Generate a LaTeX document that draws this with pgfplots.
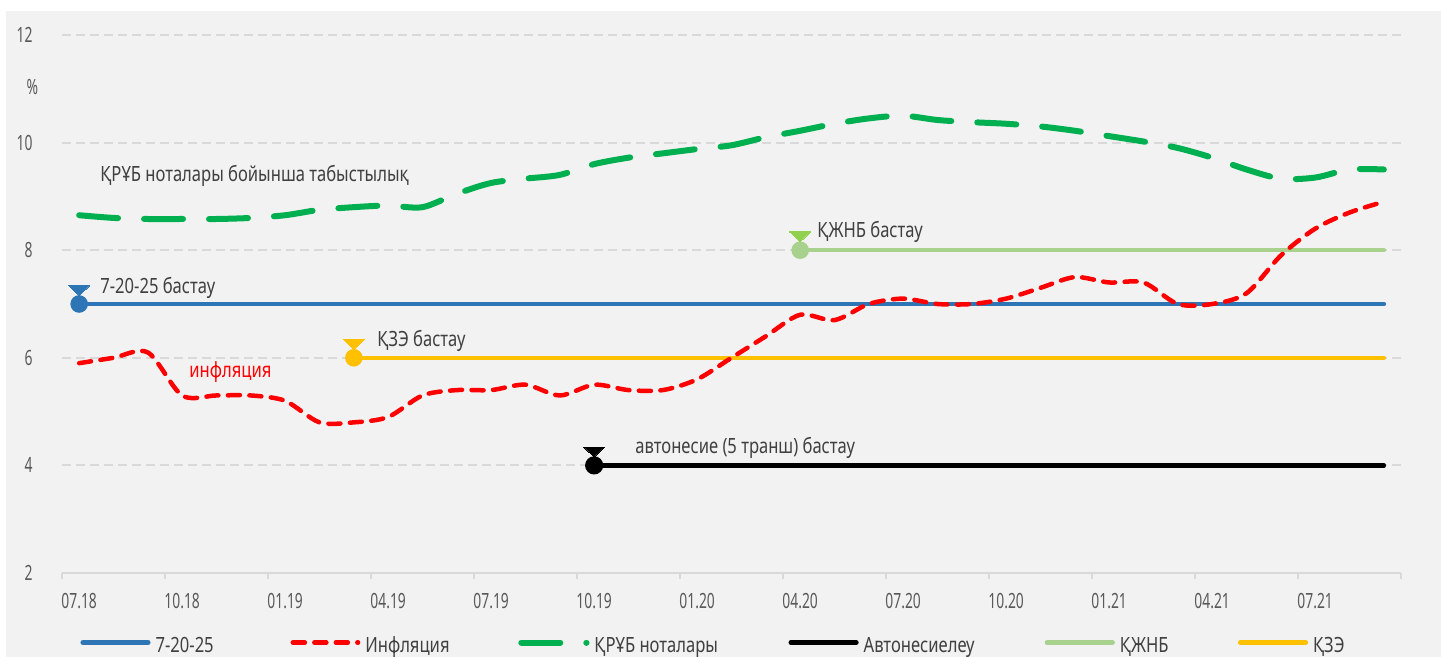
\documentclass[border=0pt]{standalone}
\usepackage{pgfplots}
\pgfplotsset{compat=1.18}
\usepackage{pgfplotstable}
\usepackage{fontspec}
\setmainfont{Noto Sans}[FakeStretch=0.79]
\newfontfamily\tickfont{Noto Sans}[FakeStretch=0.66]
\definecolor{cblue}{HTML}{2E75B6}
\definecolor{cred}{HTML}{FF0000}
\definecolor{cgreen}{HTML}{00B050}
\definecolor{clgreen}{HTML}{A9D18E}
\definecolor{ctri}{HTML}{92D050}
\definecolor{cyel}{HTML}{FFC000}
\definecolor{cgrid}{HTML}{D9D9D9}
\definecolor{cbg}{HTML}{F2F2F2}
\definecolor{ctxt}{HTML}{404040}
\definecolor{ctick}{HTML}{595959}
\newcommand{\lstrut}{\rule[-3.75pt]{0pt}{15pt}}

\pgfplotstableread{
i infl notes
0 5.9 8.65
1 6.0 8.60
2 6.1 8.58
3 5.3 8.58
4 5.3 8.58
5 5.3 8.60
6 5.2 8.65
7 4.8 8.75
8 4.8 8.80
9 4.9 8.83
10 5.3 8.80
11 5.4 9.05
12 5.4 9.25
13 5.5 9.33
14 5.3 9.40
15 5.5 9.60
16 5.4 9.72
17 5.4 9.80
18 5.6 9.88
19 6.0 9.95
20 6.4 10.10
21 6.8 10.22
22 6.7 10.35
23 7.0 10.45
24 7.1 10.50
25 7.0 10.42
26 7.0 10.38
27 7.1 10.35
28 7.3 10.30
29 7.5 10.22
30 7.4 10.12
31 7.4 10.02
32 7.0 9.90
33 7.0 9.72
34 7.2 9.50
35 7.9 9.33
36 8.4 9.35
37 8.7 9.50
38 8.9 9.50
}\data

\begin{document}
\begin{tikzpicture}[font=\fontsize{10.5pt}{12pt}\selectfont]
\fill[white] (0,0) rectangle (720.5pt,-328.5pt);
\fill[cbg] (3pt,-5.5pt) rectangle (720.5pt,-328.5pt);
\begin{axis}[
  at={(31pt,-286.5pt)}, anchor=south west,
  scale only axis, width=669.5pt, height=269pt,
  xmin=-0.5, xmax=38.5, ymin=2, ymax=12,
  axis x line*=bottom, axis y line*=left,
  x axis line style={draw=cgrid, line width=1pt, -},
  y axis line style={draw=none},
  xtick={-0.5,2.5,...,38.5}, xticklabels={},
  major tick length=3pt, tick align=outside,
  xtick style={draw=cgrid, line width=1pt},
  extra x ticks={0,3,...,36},
  extra x tick labels={07.18,10.18,01.19,04.19,07.19,10.19,01.20,04.20,07.20,10.20,01.21,04.21,07.21},
  extra x tick style={major tick length=0pt},
  ytick={2,4,...,12}, ytick style={draw=none},
  ymajorgrids, grid style={draw=cgrid, line width=1pt, dash pattern=on 4.5pt off 2.5pt},
  /pgf/number format/assume math mode=true,
  tick label style={font=\tickfont\fontsize{10.5pt}{12pt}\selectfont, text=ctick},
  xticklabel style={anchor=base, inner sep=0pt, yshift=-17.5pt},
  yticklabel style={anchor=east, inner sep=0pt, xshift=-11.5pt},
  clip=false,
  legend columns=6,
  legend style={at={(0.01344,-0.1292)}, anchor=west, draw=none, fill=none, inner sep=0pt,
    nodes={inner sep=0pt, text=ctxt},
    /tikz/every odd column/.style={column sep=2.5pt},
    /tikz/every even column/.style={column sep=35.5pt}},
  legend image code/.code={\draw[#1] (1.2pt,0pt) -- (33.8pt,0pt);},
]
\addlegendimage{cblue, line width=2.5pt, line cap=round}\addlegendentry{\makebox[32pt][l]{\lstrut 7-20-25}}
\addlegendimage{cred, line width=2.25pt, line cap=round, dash pattern=on 6pt off 4.75pt}\addlegendentry{\makebox[41pt][l]{\lstrut Инфляция}}
\addlegendimage{cgreen, line width=3pt, line cap=round, dash pattern=on 19.5pt off 13pt}\addlegendentry{\makebox[61.5pt][l]{\lstrut ҚРҰБ ноталары}}
\addlegendimage{black, line width=2.5pt, line cap=round}\addlegendentry{\makebox[55pt][l]{\lstrut Автонесиелеу}}
\addlegendimage{clgreen, line width=2.5pt, line cap=round}\addlegendentry{\makebox[23.5pt][l]{\lstrut ҚЖНБ}}
\addlegendimage{cyel, line width=2.5pt, line cap=round}\addlegendentry{\makebox[16.5pt][l]{\lstrut ҚЗЭ}}

% constant policy lines
\addplot[black, line width=2.25pt, line cap=round, mark=*, mark indices={1}, mark size=3.4pt, mark options={fill=black, draw=black}, forget plot] coordinates {(15,4) (38,4)};
\addplot[cyel, line width=2.25pt, line cap=round, mark=*, mark indices={1}, mark size=3.25pt, mark options={fill=cyel, draw=cyel}, forget plot] coordinates {(8,6) (38,6)};
\addplot[cblue, line width=2.25pt, line cap=round, mark=*, mark indices={1}, mark size=3.25pt, mark options={fill=cblue, draw=cblue}, forget plot] coordinates {(0,7) (38,7)};
\addplot[clgreen, line width=2.25pt, line cap=round, mark=*, mark indices={1}, mark size=3.25pt, mark options={fill=clgreen, draw=clgreen}, forget plot] coordinates {(21,8) (38,8)};

% start triangles
\addplot[black, only marks, mark=triangle*, mark size=6pt, mark options={yscale=-0.55, fill=black, draw=black, line width=0pt}, forget plot] coordinates {(15,4.28)};
\addplot[cyel, only marks, mark=triangle*, mark size=6pt, mark options={yscale=-0.55, fill=cyel, draw=cyel, line width=0pt}, forget plot] coordinates {(8,6.28)};
\addplot[cblue, only marks, mark=triangle*, mark size=6pt, mark options={yscale=-0.55, fill=cblue, draw=cblue, line width=0pt}, forget plot] coordinates {(0,7.28)};
\addplot[ctri, only marks, mark=triangle*, mark size=6pt, mark options={yscale=-0.55, fill=ctri, draw=ctri, line width=0pt}, forget plot] coordinates {(21,8.28)};

% inflation
\addplot[cred, line width=2.25pt, line cap=round, dash pattern=on 6pt off 4.75pt, smooth, no marks, forget plot] table[x=i, y=infl] {\data};
% notes yield
\addplot[cgreen, line width=3pt, line cap=round, dash pattern=on 19.5pt off 13pt, smooth, no marks, forget plot] table[x=i, y=notes] {\data};

% annotations
\node[anchor=base west, text=ctxt, inner sep=0pt] at (axis cs:0.606,9.268) {ҚРҰБ ноталары бойынша табыстылық};
\node[anchor=base west, text=ctxt, inner sep=0pt] at (axis cs:0.606,7.204) {7-20-25 бастау};
\node[anchor=base west, text=ctxt, inner sep=0pt] at (axis cs:8.675,6.219) {ҚЗЭ бастау};
\node[anchor=base west, text=ctxt, inner sep=0pt] at (axis cs:21.49,8.245) {ҚЖНБ бастау};
\node[anchor=base west, text=ctxt, inner sep=0pt] at (axis cs:16.19,4.23) {автонесие (5 транш) бастау};
\node[anchor=base west, text=cred, inner sep=0pt] at (axis cs:3.198,5.625) {инфляция};
\node[text=ctick, inner sep=0pt, font=\tickfont\fontsize{10.5pt}{12pt}\selectfont] at (axis cs:-1.36,11.04) {\%};
\end{axis}
\pgfresetboundingbox
\useasboundingbox (0,0) rectangle (720.5pt,-328.5pt);
\end{tikzpicture}
\end{document}
